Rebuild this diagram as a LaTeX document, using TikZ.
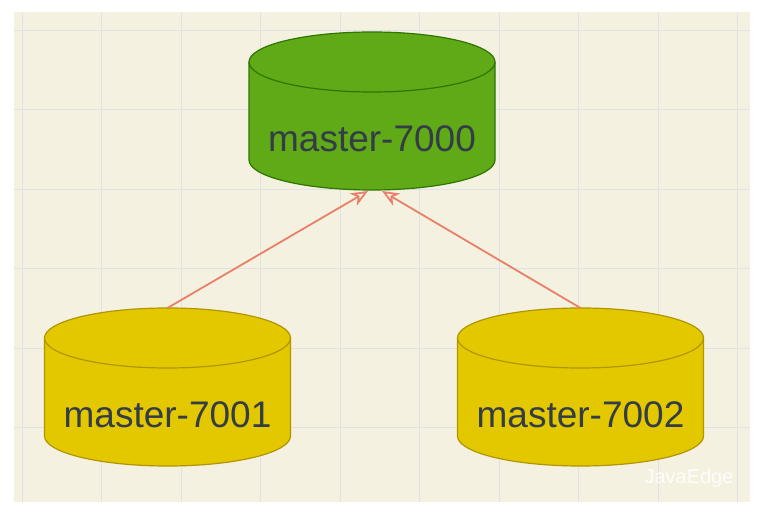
\documentclass[tikz,border=0pt]{standalone}
\usepackage{fontspec}
\setmainfont{Liberation Sans}
\usetikzlibrary{arrows.meta}
\definecolor{paper}{HTML}{F4F1E1}
\definecolor{gridc}{HTML}{E4E1E6}
\definecolor{greenfill}{HTML}{60A917}
\definecolor{greenline}{HTML}{2D7600}
\definecolor{yellowfill}{HTML}{E3C800}
\definecolor{yellowline}{HTML}{B09500}
\definecolor{linkc}{HTML}{E8806A}
\definecolor{labelc}{HTML}{333C47}
% cylinder: name, centre x, top y, fill, line, text
\newcommand{\dbcyl}[6]{%
  \filldraw[fill=#4, draw=#5, line width=1.2pt] (#2-123,#3-30) -- (#2-123,#3-128)
    arc[start angle=180, end angle=360, x radius=123, y radius=30] -- (#2+123,#3-30)
    arc[start angle=0, end angle=180, x radius=123, y radius=30] -- cycle;
  \draw[draw=#5, line width=1.2pt] (#2-123,#3-30) arc[start angle=180, end angle=360, x radius=123, y radius=30];
  \node[dblabel] (#1) at (#2,#3-107) {#6};
  \coordinate (#1top) at (#2,#3);
}
\begin{document}
\begin{tikzpicture}[x=1pt,y=1pt,
    dblabel/.style={text=labelc, font=\fontsize{37}{44}\selectfont, inner sep=0pt},
    link/.style={draw=linkc, line width=1.8pt, -{Stealth[open, inset=5pt, length=17pt, width=14pt, fill=paper]}}]
  \useasboundingbox (0,0) rectangle (762,513);
  \fill[white] (0,0) rectangle (762,513);
  \fill[paper] (14,11) rectangle (750,501);
  % grid
  \foreach \x in {22,101.5,...,740}
    \draw[gridc, line width=0.8pt] (\x,11) -- (\x,501);
  \foreach \y in {483,403.5,...,15}
    \draw[gridc, line width=0.8pt] (14,\y) -- (750,\y);
  % databases
  \dbcyl{m0}{372}{481}{greenfill}{greenline}{master-7000}
  \dbcyl{m1}{167.5}{205}{yellowfill}{yellowline}{master-7001}
  \dbcyl{m2}{580.5}{205}{yellowfill}{yellowline}{master-7002}
  \coordinate (m0left) at (368,322);
  \coordinate (m0right) at (382,322);
  \draw[link] (m1top) -- (m0left);
  \draw[link] (m2top) -- (m0right);
  \node[text=white, opacity=0.85, font=\fontsize{20}{24}\selectfont] (mark) at (689,35) {JavaEdge};
\end{tikzpicture}
\end{document}
